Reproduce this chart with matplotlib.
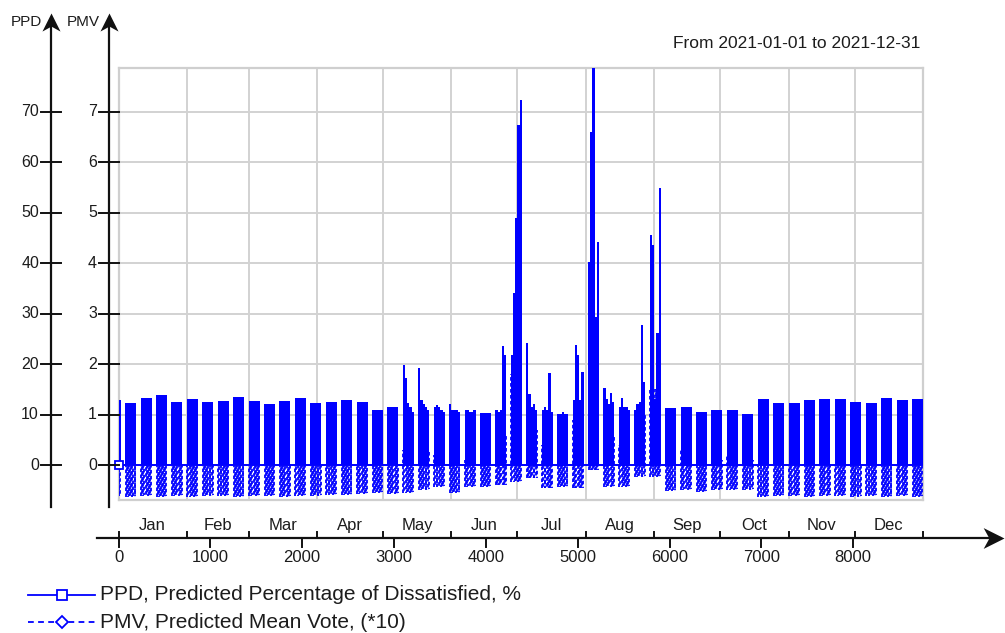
import numpy as np
import matplotlib
matplotlib.use("Agg")
import matplotlib.pyplot as plt
from matplotlib.path import Path
from matplotlib.lines import Line2D
from matplotlib.transforms import blended_transform_factory

plt.rcParams['font.family'] = ['Liberation Sans', 'DejaVu Sans']

# ---------------- data ----------------
title = "From 2021-01-01 to 2021-12-31"
months = ['Jan', 'Feb', 'Mar', 'Apr', 'May', 'Jun', 'Jul', 'Aug', 'Sep', 'Oct', 'Nov', 'Dec']
month_days = [31, 28, 31, 30, 31, 30, 31, 31, 30, 31, 30, 31]
hour_ticks = [0, 1000, 2000, 3000, 4000, 5000, 6000, 7000, 8000]
ppd_ticks = [0, 10, 20, 30, 40, 50, 60, 70]
pmv_ticks = [0, 1, 2, 3, 4, 5, 6, 7]
legend_labels = ["PPD, Predicted Percentage of Dissatisfied, %",
                 "PMV, Predicted Mean Vote, (*10)"]

# occupied blocks: block 0 = Fri 1 Jan, blocks 1..52 = Mon-Fri weeks
first_block_days = 1
week_start_day = 3          # Monday 4 Jan
days_per_week = 7
workdays = 5

# weekly PPD peak (%)
block_ppd_peak = [12.9, 12.3, 13.2, 13.9, 12.5, 13.1, 12.5, 12.7, 13.5, 12.7,
                  12.1, 12.7, 13.3, 12.3, 12.5, 12.9, 12.5, 11.0, 11.6, 12.3,
                  12.9, 11.6, 11.0, 10.9, 10.3, 10.9, 21.9, 12.0, 11.0, 10.1,
                  12.9, 29.4, 13.0, 11.6, 12.0, 13.0, 11.3, 11.6, 10.5, 10.9,
                  10.9, 10.2, 13.1, 12.3, 12.3, 12.8, 13.1, 13.0, 12.5, 12.3,
                  13.3, 12.8, 13.1]

# daily PPD peaks (%) for the summer weeks, Mon..Fri
summer_daily_ppd = {
    19: [19.8, 17.2, 12.3, 11.5, 10.5],
    20: [19.2, 12.9, 12.0, 11.6, 11.0],
    21: [11.6, 11.8, 11.6, 11.0, 10.5],
    22: [12.0, 11.0, 10.9, 10.9, 10.5],
    23: [10.9, 10.9, 10.5, 10.5, 10.9],
    24: [10.3, 10.3, 10.3, 10.3, 10.3],
    25: [10.9, 10.5, 10.9, 23.5, 21.9],
    26: [21.9, 34.1, 49.0, 67.5, 72.4],
    27: [24.2, 14.1, 11.6, 12.0, 11.0],
    28: [11.0, 11.5, 11.0, 18.3, 10.5],
    29: [10.1, 10.1, 10.5, 10.1, 10.1],
    30: [12.9, 23.8, 21.9, 12.9, 18.5],
    31: [40.3, 66.0, 78.7, 29.4, 44.2],
    32: [15.3, 13.0, 12.0, 14.3, 12.5],
    33: [11.6, 13.2, 11.6, 11.6, 11.0],
    34: [11.0, 12.0, 12.5, 27.8, 16.5],
    35: [45.6, 43.6, 13.0, 26.2, 54.9],
}

# weekly PMV range (PMV units, plotted *10)
block_pmv_low = [-0.62, -0.63, -0.62, -0.63, -0.62, -0.63, -0.62, -0.62, -0.63, -0.62,
                 -0.62, -0.63, -0.62, -0.62, -0.60, -0.60, -0.58, -0.56, -0.58, -0.56,
                 -0.50, -0.43, -0.56, -0.43, -0.43, -0.40, -0.33, -0.26, -0.46, -0.43,
                 -0.46, -0.10, -0.43, -0.43, -0.23, -0.23, -0.52, -0.50, -0.53, -0.50,
                 -0.50, -0.50, -0.63, -0.62, -0.62, -0.63, -0.62, -0.62, -0.63, -0.62,
                 -0.63, -0.62, -0.63]
block_pmv_high = [-0.02] * 19 + [0.3, 0.3, 0.2, 0.1, 0.1, 0.05, 0.6, 1.8, 0.7, 0.4,
                                 0.3, 0.9, 1.9, 0.6, 0.4, 1.0, 1.5, 0.3, 0.3, 0.2,
                                 0.1, 0.2, 0.1] + [-0.02] * 11
ppd_unoccupied = 0.0
pmv_scale = 10

# ---------------- figure ----------------
W, H = 1005, 633
fig = plt.figure(figsize=(W / 100, H / 100), dpi=100)
blue = '#0000ff'
txt = '#1c1c1c'
grid_c = '#d2d2d2'

ax_l, ax_r = 118.5, 923.0
ax_b, ax_t = 499.8, 68.1
ax = fig.add_axes([ax_l / W, 1 - ax_b / H, (ax_r - ax_l) / W, (ax_b - ax_t) / H])

total_hours = sum(month_days) * 24
month_edges = np.concatenate([[0], np.cumsum(month_days)]) * 24
ax.set_xlim(0, total_hours)
ax.set_ylim(-6.9, 78.7)
ax.set_xticks(month_edges)
ax.set_yticks(ppd_ticks)
ax.tick_params(left=False, bottom=False, labelleft=False, labelbottom=False)
ax.grid(True, color=grid_c, lw=1.4)
ax.set_axisbelow(True)
for s in ax.spines.values():
    s.set_color('#cfcfcf')
    s.set_linewidth(1.6)

dash_offsets = [0.0, 1.3, 2.6, 0.7, 1.9]

# PPD and PMV per occupied block
for k in range(len(block_ppd_peak)):
    if k == 0:
        days = np.arange(first_block_days)
    else:
        days = week_start_day + days_per_week * (k - 1) + np.arange(workdays)
    days = days[days * 24 < total_hours]
    peaks = summer_daily_ppd.get(k, [block_ppd_peak[k]] * len(days))[:len(days)]
    edges = np.append(days, days[-1] + 1) * 24
    ax.fill_between(edges, ppd_unoccupied, list(peaks) + [peaks[-1]], step='post',
                    color=blue, linewidth=0, zorder=3)
    styles = [(dash_offsets[i % len(dash_offsets)], (2.0, 1.3)) for i in range(len(days))]
    ax.vlines(days * 24 + 7, block_pmv_low[k] * pmv_scale, block_pmv_high[k] * pmv_scale,
              colors=blue, linestyles=styles, lw=1.3, zorder=4)
    styles2 = [(dash_offsets[(i + 2) % len(dash_offsets)], (2.0, 1.3)) for i in range(len(days))]
    ax.vlines(days * 24 + 17, block_pmv_low[k] * pmv_scale * 0.97, block_pmv_high[k] * pmv_scale,
              colors=blue, linestyles=styles2, lw=1.3, zorder=4)

ax.hlines(ppd_unoccupied, 0, total_hours, colors=blue, lw=1.4, zorder=4)
ax.plot([0], [ppd_unoccupied], marker='s', ms=6, mfc='white', mec=blue, mew=1.3,
        clip_on=False, zorder=6)

ax.text(920 / W, 1 - 44 / H, title, transform=fig.transFigure, ha='right', va='center',
        fontsize=12.5, color=txt)

# ---------- left value axes ----------
up_head = Path([(0, 0), (1, -2), (0, -1.45), (-1, -2), (0, 0)],
               [Path.MOVETO, Path.LINETO, Path.LINETO, Path.LINETO, Path.CLOSEPOLY])
right_head = Path([(0, 0), (-2, 1), (-1.45, 0), (-2, -1), (0, 0)],
                  [Path.MOVETO, Path.LINETO, Path.LINETO, Path.LINETO, Path.CLOSEPOLY])

ty = blended_transform_factory(fig.transFigure, ax.transData)
y_low = -8.3
y_tip = 89.6
for axis_x, ticks, lab, lab_x in [(50.5, ppd_ticks, 'PPD', 42), (108.5, pmv_ticks, 'PMV', 100)]:
    fx = axis_x / W
    fig.add_artist(Line2D([fx, fx], [y_low, y_tip - 2], transform=ty, color='#111111', lw=1.6,
                          clip_on=False))
    fig.add_artist(Line2D([fx], [y_tip], transform=ty, marker=up_head, ms=26, color='#111111',
                          mew=0, clip_on=False))
    for v, t in zip(ppd_ticks, ticks):
        fig.add_artist(Line2D([(axis_x - 10) / W, (axis_x + 10) / W], [v, v], transform=ty,
                              color='#111111', lw=1.4, clip_on=False))
        fig.text((axis_x - 11.5) / W, v, str(t), transform=ty, ha='right', va='center',
                 fontsize=11.5, color=txt)
    fig.text(lab_x / W, 1 - 22 / H, lab, ha='right', va='center', fontsize=11, color=txt)

# ---------- bottom time axis ----------
tx = blended_transform_factory(ax.transData, fig.transFigure)
line_y = 1 - 537.5 / H
fig.add_artist(Line2D([-235, 9600], [line_y, line_y], transform=tx, color='#111111', lw=1.6,
                      clip_on=False))
fig.add_artist(Line2D([9645], [line_y], transform=tx, marker=right_head, ms=30,
                      color='#111111', mew=0, clip_on=False))
for e in month_edges:
    fig.add_artist(Line2D([e, e], [line_y, 1 - 531.5 / H], transform=tx, color='#111111',
                          lw=1.4, clip_on=False))
for h in hour_ticks:
    fig.add_artist(Line2D([h, h], [line_y, 1 - 546.5 / H], transform=tx, color='#111111',
                          lw=1.4, clip_on=False))
    fig.text(h, 1 - 557 / H, str(h), transform=tx, ha='center', va='center',
             fontsize=12, color=txt)
for m, a, b in zip(months, month_edges[:-1], month_edges[1:]):
    fig.text((a + b) / 2, 1 - 525.5 / H, m, transform=tx, ha='center', va='center',
             fontsize=12, color=txt)

# ---------- legend ----------
for i, (lab, ls, mk) in enumerate(zip(legend_labels, ['-', (0, (3.2, 2.4))], ['s', 'D'])):
    yy = 1 - (595 + 27 * i) / H
    fig.add_artist(Line2D([28 / W, 95 / W], [yy, yy], transform=fig.transFigure, color=blue,
                          lw=1.3, ls=ls, clip_on=False))
    fig.add_artist(Line2D([62 / W], [yy], transform=fig.transFigure, marker=mk,
                          ms=7 if mk == 's' else 6, mfc='white', mec=blue, mew=1.3,
                          clip_on=False))
    fig.text(100 / W, yy, lab, ha='left', va='center', fontsize=15, color=txt)

fig.savefig('out.png', dpi=100)
